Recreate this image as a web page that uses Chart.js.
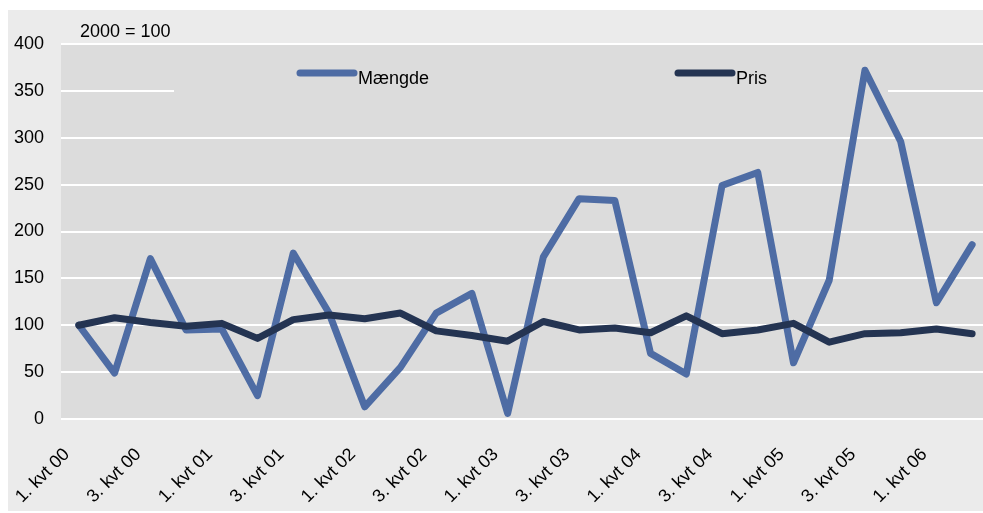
<!DOCTYPE html>
<html>
<head>
<meta charset="utf-8">
<script src="https://cdn.jsdelivr.net/npm/chart.js@4/dist/chart.umd.min.js"></script>
<style>
  html, body { margin: 0; padding: 0; background: #ffffff; overflow: hidden; }
  #wrap { width: 983px; height: 513px; position: relative; overflow: hidden; }
  canvas { display: block; }
</style>
</head>
<body>
<div id="wrap"><canvas id="c" width="998" height="513"></canvas></div>
<script>
const categories = [
  "1. kvt 00","2. kvt 00","3. kvt 00","4. kvt 00",
  "1. kvt 01","2. kvt 01","3. kvt 01","4. kvt 01",
  "1. kvt 02","2. kvt 02","3. kvt 02","4. kvt 02",
  "1. kvt 03","2. kvt 03","3. kvt 03","4. kvt 03",
  "1. kvt 04","2. kvt 04","3. kvt 04","4. kvt 04",
  "1. kvt 05","2. kvt 05","3. kvt 05","4. kvt 05",
  "1. kvt 06","2. kvt 06"
];
const maengde = [100, 49, 171, 95, 96, 25, 177, 113, 13, 55, 113, 134, 6, 173, 235, 233, 70, 48, 249, 263, 60, 148, 372, 296, 124, 186];
const pris    = [100, 108, 103, 99, 102, 86, 106, 111, 107, 113, 94, 89, 83, 104, 95, 97, 92, 110, 91, 95, 102, 82, 91, 92, 96, 91];
const yTicks = [0, 50, 100, 150, 200, 250, 300, 350, 400];
const seriesNames = ["Mængde", "Pris"];
const noteText = "2000 = 100";

const FONT = "'Liberation Sans', Arial, sans-serif";
const FSIZE = 18;
const C_M = "#4e6ca4";
const C_P = "#243452";

const bgPlugin = {
  id: 'bg',
  beforeDraw(chart) {
    const ctx = chart.ctx, a = chart.chartArea;
    ctx.save();
    ctx.fillStyle = '#ffffff';
    ctx.fillRect(0, 0, chart.width, chart.height);
    ctx.fillStyle = '#ebebeb';
    ctx.fillRect(8, 10, chart.width - 8, 501);
    ctx.fillStyle = '#dcdcdc';
    ctx.fillRect(a.left, a.top, a.right - a.left, a.bottom - a.top);
    ctx.restore();
  },
  beforeDatasetsDraw(chart) {
    const ctx = chart.ctx;
    ctx.save();
    // legend box
    ctx.fillStyle = '#dcdcdc';
    ctx.fillRect(174, 50, 714, 50);
    ctx.font = FSIZE + "px " + FONT;
    ctx.fillStyle = '#000';
    ctx.textBaseline = 'alphabetic';
    ctx.textAlign = 'left';
    const items = [
      {x: 297, ds: chart.data.datasets[0]},
      {x: 675, ds: chart.data.datasets[1]}
    ];
    items.forEach(it => {
      ctx.strokeStyle = it.ds.borderColor;
      ctx.lineWidth = 7;
      ctx.lineCap = 'round';
      ctx.beginPath();
      ctx.moveTo(it.x + 3, 73);
      ctx.lineTo(it.x + 57, 73);
      ctx.stroke();
      ctx.fillText(it.ds.label, it.x + 61, 84);
    });
    // note text
    ctx.fillText(noteText, 80, 37);
    ctx.restore();
  }
};

new Chart(document.getElementById('c'), {
  type: 'line',
  data: {
    labels: categories,
    datasets: [
      { label: seriesNames[0], data: maengde, borderColor: C_M, backgroundColor: C_M,
        borderWidth: 7, pointRadius: 0, tension: 0, borderCapStyle: 'round', borderJoinStyle: 'round', order: 2 },
      { label: seriesNames[1], data: pris, borderColor: C_P, backgroundColor: C_P,
        borderWidth: 7, pointRadius: 0, tension: 0, borderCapStyle: 'round', borderJoinStyle: 'round', order: 1 }
    ]
  },
  options: {
    responsive: false,
    animation: false,
    devicePixelRatio: 1,
    layout: { padding: { left: 8, top: 44, right: 8, bottom: 0 } },
    plugins: { legend: { display: false }, tooltip: { enabled: false }, title: { display: false } },
    scales: {
      x: {
        type: 'category',
        offset: true,
        grid: { display: false, drawTicks: false },
        border: { display: false },
        ticks: {
          autoSkip: false,
          minRotation: 45, maxRotation: 45,
          padding: 25,
          labelOffset: -12,
          color: '#000',
          font: { family: FONT, size: FSIZE },
          callback: function(v, i) { return i % 2 === 0 ? this.getLabelForValue(v) : ''; }
        },
        afterFit(s) { s.height = 94; s.paddingRight = 0; s.paddingLeft = 0; }
      },
      y: {
        min: 0, max: 400,
        afterBuildTicks(s) { s.ticks = yTicks.map(v => ({ value: v })); },
        grid: { color: '#ffffff', lineWidth: 2, drawTicks: false },
        border: { display: false },
        ticks: {
          padding: 17,
          color: '#000',
          font: { family: FONT, size: FSIZE }
        },
        afterFit(s) { s.width = 53; }
      }
    }
  },
  plugins: [bgPlugin]
});
</script>
</body>
</html>
